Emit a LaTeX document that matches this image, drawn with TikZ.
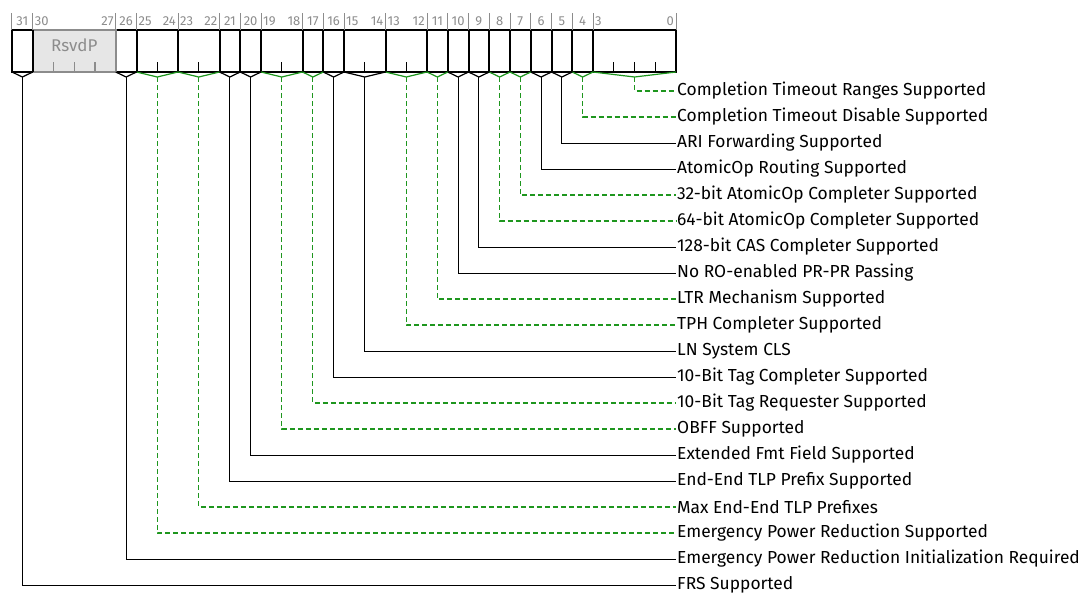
\documentclass[tikz,border=0pt]{standalone}
\usepackage{fontspec}
\setmainfont{Fira Sans}
\usepackage{tikz}

\definecolor{hwgreen}{RGB}{30,150,30}
\definecolor{bitgray}{RGB}{140,140,140}
\definecolor{rsvdfill}{RGB}{230,230,230}
\tikzset{
  reg/.style={line width=2pt, black},
  blk/.style={line width=1pt, black},
  grn/.style={line width=1.2pt, hwgreen, dash pattern=on 5pt off 3pt},
  vblk/.style={line width=1.2pt, black},
  vgrn/.style={line width=1.2pt, hwgreen},
  lbl/.style={anchor=west, inner sep=1pt, font=\fontsize{17.4}{20}\selectfont},
  bitno/.style={text=bitgray, inner sep=2pt, font=\fontsize{13}{15}\selectfont},
}

\begin{document}
\begin{tikzpicture}[x=20.75pt, y=-1pt]
    \useasboundingbox (-0.5783,0) rectangle (51.759,595);
    % register
    \draw[reg] (0,30) rectangle (32,72);
    \foreach \c in {1,5,6,8,10,11,12,14,15,16,18,20,21,22,23,24,25,26,27,28}
        \draw[reg] (\c,30) -- (\c,72);
    \fill[rsvdfill] (1,30) rectangle (5,72);
    \draw[line width=2pt, bitgray] (1,30) -- (5,30) -- (5,72) -- (1,72);
    \draw[reg] (1,30) -- (1,72);
    \node[text=bitgray, font=\fontsize{17}{19}\selectfont] (rsvdp) at (3,45) {RsvdP};
    \foreach \c in {2,3,4} \draw[line width=1.2pt, bitgray] (\c,62) -- (\c,72);
    \foreach \c in {7,9,13,17,19,29,30,31} \draw[line width=1.2pt] (\c,62) -- (\c,72);
    % bit numbers
    \foreach \c in {0,1,5,6,8,10,11,12,14,15,16,18,20,21,22,23,24,25,26,27,28,32}
        \draw[line width=1pt, bitgray] (\c,13) -- (\c,30);
    \node[bitno] (n31) at (0.5,21) {31}; \node[bitno, anchor=west] (n30) at (1,21) {30};
    \node[bitno, anchor=east] (n27) at (5,21) {27}; \node[bitno] (n26) at (5.5,21) {26};
    \node[bitno, anchor=west] (n25) at (6,21) {25}; \node[bitno, anchor=east] (n24) at (8,21) {24};
    \node[bitno, anchor=west] (n23) at (8,21) {23}; \node[bitno, anchor=east] (n22) at (10,21) {22};
    \node[bitno] (n21) at (10.5,21) {21}; \node[bitno] (n20) at (11.5,21) {20};
    \node[bitno, anchor=west] (n19) at (12,21) {19}; \node[bitno, anchor=east] (n18) at (14,21) {18};
    \node[bitno] (n17) at (14.5,21) {17}; \node[bitno] (n16) at (15.5,21) {16};
    \node[bitno, anchor=west] (n15) at (16,21) {15}; \node[bitno, anchor=east] (n14) at (18,21) {14};
    \node[bitno, anchor=west] (n13) at (18,21) {13}; \node[bitno, anchor=east] (n12) at (20,21) {12};
    \node[bitno] (n11) at (20.5,21) {11}; \node[bitno] (n10) at (21.5,21) {10};
    \node[bitno] (n9) at (22.5,21) {9}; \node[bitno] (n8) at (23.5,21) {8};
    \node[bitno] (n7) at (24.5,21) {7}; \node[bitno] (n6) at (25.5,21) {6};
    \node[bitno] (n5) at (26.5,21) {5}; \node[bitno] (n4) at (27.5,21) {4};
    \node[bitno, anchor=west] (n3) at (28,21) {3}; \node[bitno, anchor=east] (n0) at (32,21) {0};
    % fields and their labels
    \coordinate (v0) at (30,77); \draw[vgrn] (28,72) -- (v0) -- (32,72);
    \node[lbl] (ctr) at (32,91) {Completion Timeout Ranges Supported}; \draw[grn] (v0) |- (ctr.west);
    \coordinate (v4) at (27.5,77); \draw[vgrn] (27,72) -- (v4) -- (28,72);
    \node[lbl] (ctd) at (32,117) {Completion Timeout Disable Supported}; \draw[grn] (v4) |- (ctd.west);
    \coordinate (v5) at (26.5,77); \draw[vblk] (26,72) -- (v5) -- (27,72);
    \node[lbl] (ari) at (32,143) {ARI Forwarding Supported}; \draw[blk] (v5) |- (ari.west);
    \coordinate (v6) at (25.5,77); \draw[vblk] (25,72) -- (v6) -- (26,72);
    \node[lbl] (aor) at (32,169) {AtomicOp Routing Supported}; \draw[blk] (v6) |- (aor.west);
    \coordinate (v7) at (24.5,77); \draw[vgrn] (24,72) -- (v7) -- (25,72);
    \node[lbl] (ao32) at (32,195) {32-bit AtomicOp Completer Supported}; \draw[grn] (v7) |- (ao32.west);
    \coordinate (v8) at (23.5,77); \draw[vgrn] (23,72) -- (v8) -- (24,72);
    \node[lbl] (ao64) at (32,221) {64-bit AtomicOp Completer Supported}; \draw[grn] (v8) |- (ao64.west);
    \coordinate (v9) at (22.5,77); \draw[vblk] (22,72) -- (v9) -- (23,72);
    \node[lbl] (cas) at (32,247) {128-bit CAS Completer Supported}; \draw[blk] (v9) |- (cas.west);
    \coordinate (v10) at (21.5,77); \draw[vblk] (21,72) -- (v10) -- (22,72);
    \node[lbl] (nro) at (32,273) {No RO-enabled PR-PR Passing}; \draw[blk] (v10) |- (nro.west);
    \coordinate (v11) at (20.5,77); \draw[vgrn] (20,72) -- (v11) -- (21,72);
    \node[lbl] (ltr) at (32,299) {LTR Mechanism Supported}; \draw[grn] (v11) |- (ltr.west);
    \coordinate (v12) at (19,77); \draw[vgrn] (18,72) -- (v12) -- (20,72);
    \node[lbl] (tph) at (32,325) {TPH Completer Supported}; \draw[grn] (v12) |- (tph.west);
    \coordinate (v14) at (17,77); \draw[vblk] (16,72) -- (v14) -- (18,72);
    \node[lbl] (cls) at (32,351) {LN System CLS}; \draw[blk] (v14) |- (cls.west);
    \coordinate (v16) at (15.5,77); \draw[vblk] (15,72) -- (v16) -- (16,72);
    \node[lbl] (tagc) at (32,377) {10-Bit Tag Completer Supported}; \draw[blk] (v16) |- (tagc.west);
    \coordinate (v17) at (14.5,77); \draw[vgrn] (14,72) -- (v17) -- (15,72);
    \node[lbl] (tagr) at (32,403) {10-Bit Tag Requester Supported}; \draw[grn] (v17) |- (tagr.west);
    \coordinate (v18) at (13,77); \draw[vgrn] (12,72) -- (v18) -- (14,72);
    \node[lbl] (obff) at (32,429) {OBFF Supported}; \draw[grn] (v18) |- (obff.west);
    \coordinate (v20) at (11.5,77); \draw[vblk] (11,72) -- (v20) -- (12,72);
    \node[lbl] (efmt) at (32,455) {Extended Fmt Field Supported}; \draw[blk] (v20) |- (efmt.west);
    \coordinate (v21) at (10.5,77); \draw[vblk] (10,72) -- (v21) -- (11,72);
    \node[lbl] (eetp) at (32,481) {End-End TLP Prefix Supported}; \draw[blk] (v21) |- (eetp.west);
    \coordinate (v22) at (9,77); \draw[vgrn] (8,72) -- (v22) -- (10,72);
    \node[lbl] (mxee) at (32,507) {Max End-End TLP Prefixes}; \draw[grn] (v22) |- (mxee.west);
    \coordinate (v24) at (7,77); \draw[vgrn] (6,72) -- (v24) -- (8,72);
    \node[lbl] (epr) at (32,533) {Emergency Power Reduction Supported}; \draw[grn] (v24) |- (epr.west);
    \coordinate (v26) at (5.5,77); \draw[vblk] (5,72) -- (v26) -- (6,72);
    \node[lbl] (epri) at (32,559) {Emergency Power Reduction Initialization Required}; \draw[blk] (v26) |- (epri.west);
    \coordinate (v31) at (0.5,77); \draw[vblk] (0,72) -- (v31) -- (1,72);
    \node[lbl] (frs) at (32,585) {FRS Supported}; \draw[blk] (v31) |- (frs.west);
\end{tikzpicture}
\end{document}
